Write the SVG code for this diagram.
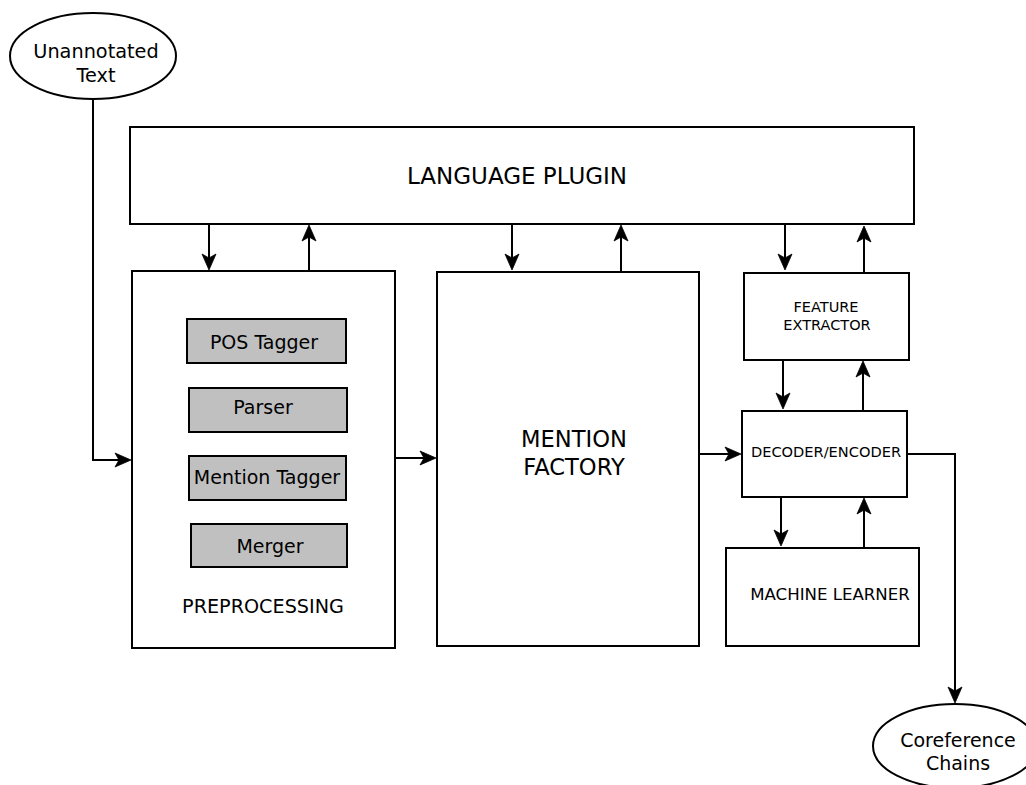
<svg xmlns="http://www.w3.org/2000/svg" width="1026" height="785" viewBox="0 0 1026 785">
<style>
  .box{fill:#fff;stroke:#000;stroke-width:2}
  .sub{fill:#c0c0c0;stroke:#000;stroke-width:2}
  .conn{fill:none;stroke:#000;stroke-width:2}
  text{font-family:"DejaVu Sans",sans-serif;fill:#000;text-anchor:middle}
</style>
<defs>
  <marker id="arr" markerUnits="userSpaceOnUse" markerWidth="18" markerHeight="16" viewBox="0 -8 18 16" refX="7" refY="0" orient="auto" overflow="visible">
    <path d="M0,-7 L16,0 L0,7 L4,0 Z" fill="#000" stroke="#000" stroke-width="0.8" stroke-linejoin="miter"/>
  </marker>
</defs>
<rect width="1026" height="785" fill="#fff"/>

<g id="unannotated">
  <ellipse cx="93" cy="56" rx="83" ry="43" class="box"/>
  <text x="96" y="58" font-size="19.3">Unannotated</text>
  <text x="96" y="82" font-size="19.3">Text</text>
</g>
<g id="language-plugin">
  <rect x="130" y="127" width="784" height="97" class="box"/>
  <text x="517" y="184" font-size="23">LANGUAGE PLUGIN</text>
</g>
<g id="preprocessing">
  <rect x="132" y="271" width="263" height="377" class="box"/>
  <text x="263" y="613" font-size="19.2">PREPROCESSING</text>
</g>
<g id="pos-tagger">
  <rect x="187" y="319" width="159" height="44" class="sub"/>
  <text x="264" y="349" font-size="19">POS Tagger</text>
</g>
<g id="parser">
  <rect x="189" y="388" width="158" height="44" class="sub"/>
  <text x="263" y="414" font-size="19">Parser</text>
</g>
<g id="mention-tagger">
  <rect x="189" y="456" width="157" height="44" class="sub"/>
  <text x="267" y="484" font-size="19">Mention Tagger</text>
</g>
<g id="merger">
  <rect x="191" y="524" width="156" height="43" class="sub"/>
  <text x="270" y="553" font-size="19">Merger</text>
</g>
<g id="mention-factory">
  <rect x="437" y="272" width="262" height="374" class="box"/>
  <text x="574" y="447" font-size="22.6">MENTION</text>
  <text x="574" y="475" font-size="22.6">FACTORY</text>
</g>
<g id="feature-extractor">
  <rect x="744" y="273" width="165" height="87" class="box"/>
  <text x="826" y="312" font-size="14.5">FEATURE</text>
  <text x="827" y="330" font-size="14.5">EXTRACTOR</text>
</g>
<g id="decoder-encoder">
  <rect x="742" y="411" width="165" height="86" class="box"/>
  <text x="826" y="457" font-size="14.6">DECODER/ENCODER</text>
</g>
<g id="machine-learner">
  <rect x="726" y="548" width="193" height="98" class="box"/>
  <text x="830" y="600" font-size="16.6">MACHINE LEARNER</text>
</g>
<g id="coreference-chains">
  <ellipse cx="955" cy="746" rx="82" ry="42" class="box"/>
  <text x="958" y="747" font-size="19">Coreference</text>
  <text x="958" y="770" font-size="19">Chains</text>
</g>

<g id="connectors" class="conn" marker-end="url(#arr)">
  <path d="M93,99 V460 H122"/>
  <path d="M209,225 V261"/>
  <path d="M309,271 V234"/>
  <path d="M512,225 V261"/>
  <path d="M621,271 V234"/>
  <path d="M785,225 V261"/>
  <path d="M864,272 V235"/>
  <path d="M783,360 V400"/>
  <path d="M863,410 V370"/>
  <path d="M781,497 V537"/>
  <path d="M864,547 V507"/>
  <path d="M395,458 H427"/>
  <path d="M699,454 H732"/>
  <path d="M907,454 H955 V694"/>
</g>
</svg>
